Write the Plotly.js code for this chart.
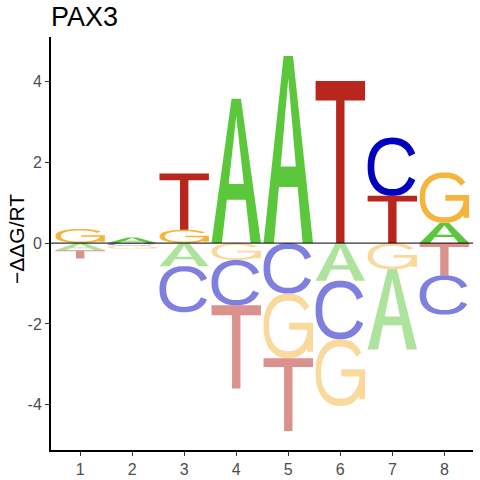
<!DOCTYPE html>
<html>
<head>
<meta charset="utf-8">
<script src="https://cdn.plot.ly/plotly-3.0.1.min.js"></script>
<style>html,body{margin:0;padding:0;background:#fff}#chart{width:480px;height:480px}</style>
</head>
<body>
<div id="chart"></div>
<script>
// ---- data (signed -ΔΔG/RT per base and position) ----
const positions = [1, 2, 3, 4, 5, 6, 7, 8];
const valuesA = [-0.18, 0.14, -0.57, 3.57, 4.63, -0.93, -1.98, 0.50];
const valuesC = [0.00, -0.06, -1.14, -1.12, -1.25, -1.45, 1.44, -0.97];
const valuesG = [0.35, -0.08, 0.33, -0.42, -1.60, -1.65, -0.65, 1.25];
const valuesT = [-0.20, 0.00, 1.39, -2.06, -1.80, 4.01, 1.17, -0.80];
const yTickVals = [-4, -2, 0, 2, 4];
const yTickText = ['-4', '-2', '0', '2', '4'];
const xTickText = ['1', '2', '3', '4', '5', '6', '7', '8'];
const chartTitle = 'PAX3';
const yTitle = '\u2212\u0394\u0394G/RT';

// ---- styles ----
const FONT = 'Liberation Sans, Arial, Helvetica, sans-serif';
const letterColors = {A: '#5bc83c', C: '#0000c0', G: '#f5b43c', T: '#b8261e'};
const LETTER_W = 0.95;

// ---- glyph outlines in a unit box ----
function arc(cx, cy, rx, ry, a1, a2, n, p) {
  const pts = [];
  for (let i = 0; i <= n; i++) {
    const a = (a1 + (a2 - a1) * i / n) * Math.PI / 180;
    const c = Math.cos(a), s = Math.sin(a);
    pts.push([cx + rx * Math.sign(c) * Math.pow(Math.abs(c), p),
              cy + ry * Math.sign(s) * Math.pow(Math.abs(s), p)]);
  }
  return pts;
}
function rect(x0, y0, x1, y1) { return [[x0, y0], [x1, y0], [x1, y1], [x0, y1]]; }
function glyph(letter) {
  if (letter === 'A') {
    return [
      [[0, 0], [0.21, 0], [0.31, 0.30], [0.69, 0.30], [0.79, 0], [1, 0], [0.595, 1], [0.405, 1]],
      [[0.347, 0.41], [0.5, 0.88], [0.653, 0.41]]
    ];
  }
  if (letter === 'T') {
    return [[[0.415, 0], [0.585, 0], [0.585, 0.88], [1, 0.88], [1, 1], [0, 1], [0, 0.88], [0.415, 0.88]]];
  }
  if (letter === 'C') {
    return [arc(0.5, 0.5, 0.5, 0.5, 24, 336, 80, 0.88).concat(arc(0.5, 0.5, 0.365, 0.385, 336, 24, 80, 0.88))];
  }
  // G
  return [
    arc(0.5, 0.5, 0.5, 0.5, 34, 352, 80, 0.88).concat(arc(0.5, 0.5, 0.39, 0.39, 352, 34, 80, 0.88)),
    rect(0.52, 0.44, 1.0, 0.55),
    rect(0.885, 0.10, 1.0, 0.55)
  ];
}
function glyphPath(letter, xc, y0, y1) {
  const polys = glyph(letter);
  return polys.map(p => 'M' + p.map(([u, v]) => {
    const x = xc - LETTER_W / 2 + u * LETTER_W;
    const y = y0 + v * (y1 - y0);
    return x.toFixed(5) + ',' + y.toFixed(5);
  }).join('L') + 'Z').join(' ');
}

// ---- build stacked letters ----
const series = {A: valuesA, C: valuesC, G: valuesG, T: valuesT};
const shapes = [];
positions.forEach((pos, i) => {
  const entries = Object.keys(series).map(k => ({k, v: series[k][i]})).filter(e => e.v !== 0);
  const up = entries.filter(e => e.v > 0).sort((a, b) => a.v - b.v);
  const down = entries.filter(e => e.v < 0).sort((a, b) => b.v - a.v);
  let top = 0;
  up.forEach(e => {
    shapes.push({type: 'path', xref: 'x', yref: 'y', path: glyphPath(e.k, pos, top, top + e.v),
      fillcolor: letterColors[e.k], opacity: 1, line: {width: 0}, fillrule: 'nonzero', layer: 'above'});
    top += e.v;
  });
  let bot = 0;
  down.forEach(e => {
    shapes.push({type: 'path', xref: 'x', yref: 'y', path: glyphPath(e.k, pos, bot + e.v, bot),
      fillcolor: letterColors[e.k], opacity: 0.5, line: {width: 0}, fillrule: 'nonzero', layer: 'above'});
    bot += e.v;
  });
});
shapes.push({type: 'line', xref: 'paper', x0: 0, x1: 1, yref: 'y', y0: 0, y1: 0,
  line: {color: 'black', width: 1}, layer: 'above'});

const data = [{
  x: positions, y: positions.map(() => 0), type: 'scatter', mode: 'markers',
  marker: {opacity: 0}, hoverinfo: 'skip', showlegend: false
}];

const layout = {
  width: 480, height: 480,
  margin: {l: 51, r: 7, t: 37, b: 30, pad: 0},
  paper_bgcolor: 'white', plot_bgcolor: 'white',
  font: {family: FONT, color: '#4d4d4d'},
  title: {text: chartTitle, font: {family: FONT, size: 27, color: 'black'},
    x: 0, xref: 'paper', xanchor: 'left', y: 1 - 17 / 480, yref: 'container', yanchor: 'middle'},
  xaxis: {range: [0.44, 8.55], tickvals: positions, ticktext: xTickText, showgrid: false, zeroline: false,
    showline: true, linecolor: 'black', linewidth: 2, ticks: 'outside', ticklen: 4, tickwidth: 1, tickcolor: '#333',
    tickfont: {size: 16, color: '#4d4d4d', family: FONT}, fixedrange: true},
  yaxis: {range: [-5.12, 5.10], tickvals: yTickVals, ticktext: yTickText, showgrid: false, zeroline: false,
    showline: true, linecolor: 'black', linewidth: 2, ticks: 'outside', ticklen: 4, tickwidth: 1, tickcolor: '#333',
    tickfont: {size: 16, color: '#4d4d4d', family: FONT}, fixedrange: true},
  shapes: shapes,
  annotations: [{text: yTitle, xref: 'paper', yref: 'paper', x: (17 - 51) / 422, y: 0.511,
    xanchor: 'center', yanchor: 'middle', textangle: -90, showarrow: false,
    font: {family: FONT, size: 21, color: 'black'}}]
};

Plotly.newPlot('chart', data, layout, {staticPlot: true, displayModeBar: false});
</script>
</body>
</html>
